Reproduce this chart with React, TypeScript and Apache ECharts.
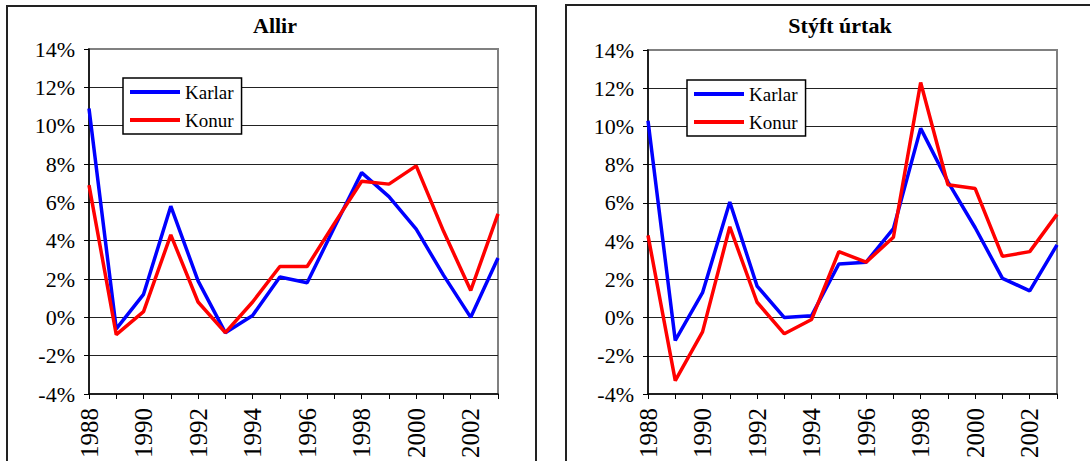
import React, { useEffect, useRef } from "react";
import * as echarts from "echarts";

const years = ["1988","1989","1990","1991","1992","1993","1994","1995","1996","1997","1998","1999","2000","2001","2002","2003"];
const allirKarlar = [10.9, -0.6, 1.2, 5.8, 1.9, -0.8, 0.1, 2.1, 1.8, 4.7, 7.55, 6.3, 4.6, 2.2, 0.0, 3.1];
const allirKonur = [6.9, -0.9, 0.3, 4.3, 0.8, -0.8, 0.8, 2.65, 2.65, 4.9, 7.1, 6.95, 7.9, 4.5, 1.4, 5.4];
const styftKarlar = [10.3, -1.2, 1.3, 6.05, 1.65, 0.0, 0.1, 2.8, 2.9, 4.65, 9.9, 7.1, 4.7, 2.05, 1.4, 3.8];
const styftKonur = [4.3, -3.3, -0.75, 4.75, 0.8, -0.85, -0.1, 3.45, 2.9, 4.2, 12.3, 6.95, 6.75, 3.2, 3.45, 5.4];
const titles = ["Allir", "Stýft úrtak"];
const seriesNames = ["Karlar", "Konur"];
const yMin = -4;
const yMax = 14;
const yStep = 2;

const FONT = "Liberation Serif";

export default function App() {
  const ref = useRef<HTMLDivElement>(null);
  useEffect(() => {
    if (!ref.current) return;
    const chart = echarts.init(ref.current, undefined, { renderer: "svg" });
    const grids = [
      { left: 89, top: 49, width: 409, height: 347 },
      { left: 648, top: 50, width: 409, height: 346 },
    ];
    const xAxes = grids.map((_, i) => ({
      type: "category",
      gridIndex: i,
      data: years,
      boundaryGap: false,
      axisLine: { onZero: false, lineStyle: { color: "#000", width: 1.5 } },
      axisTick: { show: true, interval: 0, length: 5, lineStyle: { color: "#000", width: 1 } },
      axisLabel: { interval: 1, rotate: 90, margin: 14, color: "#000", fontSize: 25, fontFamily: FONT },
      splitLine: { show: false },
    }));
    const yAxes = grids.map((_, i) => ({
      type: "value",
      gridIndex: i,
      min: yMin,
      max: yMax,
      interval: yStep,
      axisLine: { show: true, lineStyle: { color: "#000", width: 1.5 } },
      axisTick: { show: true, length: 5, lineStyle: { color: "#000", width: 1 } },
      axisLabel: { formatter: "{value}%", margin: 14, color: "#000", fontSize: 22, fontFamily: FONT },
      splitLine: { show: true, showMinLine: false, showMaxLine: false, lineStyle: { color: "#222", width: 1 } },
    }));
    const mk = (name: string, data: number[], idx: number, color: string) => ({
      name,
      type: "line",
      xAxisIndex: idx,
      yAxisIndex: idx,
      data,
      symbol: "none",
      lineStyle: { color, width: 3.5 },
      itemStyle: { color },
      z: name === "Konur" ? 3 : 2,
    });
    const legendBase = {
      orient: "vertical",
      data: seriesNames,
      icon: "rect",
      itemWidth: 50,
      itemHeight: 4,
      itemGap: 8,
      padding: [4, 8, 4, 7],
      borderColor: "#000",
      borderWidth: 1.5,
      backgroundColor: "#fff",
      textStyle: { color: "#000", fontSize: 19, fontFamily: FONT, lineHeight: 20 },
      selectedMode: false,
    };
    chart.setOption({
      animation: false,
      backgroundColor: "#fff",
      grid: grids.map((g) => ({ ...g, show: true, borderColor: "#808080", borderWidth: 2, backgroundColor: "transparent" })),
      xAxis: xAxes,
      yAxis: yAxes,
      legend: [
        { ...legendBase, left: 123, top: 78 },
        { ...legendBase, left: 687, top: 80 },
      ],
      series: [
        mk(seriesNames[0], allirKarlar, 0, "#0000ff"),
        mk(seriesNames[1], allirKonur, 0, "#ff0000"),
        mk(seriesNames[0], styftKarlar, 1, "#0000ff"),
        mk(seriesNames[1], styftKonur, 1, "#ff0000"),
      ],
      graphic: [
        { type: "rect", shape: { x: 7, y: 6, width: 529, height: 480 }, style: { fill: "none", stroke: "#222", lineWidth: 2 }, silent: true, z: 0 },
        { type: "rect", shape: { x: 566, y: 5, width: 540, height: 480 }, style: { fill: "none", stroke: "#222", lineWidth: 2 }, silent: true, z: 0 },
        { type: "text", x: 275, y: 25, style: { text: titles[0], align: "center", verticalAlign: "middle", fontFamily: FONT, fontWeight: "bold", fontSize: 22, fill: "#000" } },
        { type: "text", x: 840, y: 25, style: { text: titles[1], align: "center", verticalAlign: "middle", fontFamily: FONT, fontWeight: "bold", fontSize: 22, fill: "#000" } },
      ],
    });
    return () => chart.dispose();
  }, []);
  return <div ref={ref} style={{ position: "absolute", left: 0, top: 0, width: 1090, height: 461 }} />;
}
